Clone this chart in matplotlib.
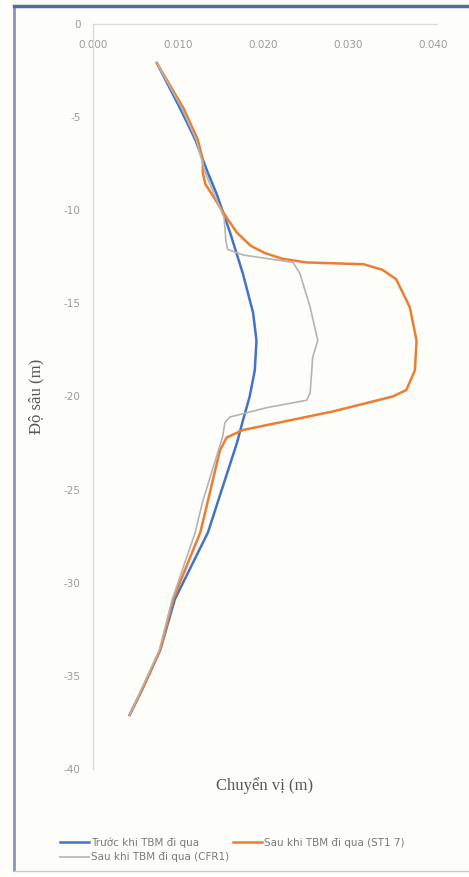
import numpy as np
import matplotlib
matplotlib.use("Agg")
import matplotlib.pyplot as plt
from matplotlib.lines import Line2D

# depth (m, negative downward) and displacement (m)
depth_before = [-2.1, -4.5, -6.2, -8.0, -9.1, -10.4, -11.2, -13.4, -15.5, -17.0, -18.6,
                -20.0, -21.3, -22.5, -25.6, -27.3, -30.9, -33.6, -35.8, -37.1]
disp_before = [0.0075, 0.0102, 0.0120, 0.0135, 0.0145, 0.0155, 0.0161, 0.0176, 0.0188, 0.0192, 0.0190,
               0.0184, 0.0176, 0.0169, 0.0147, 0.0135, 0.0096, 0.0079, 0.0057, 0.0043]

depth_after1 = [-2.1, -4.5, -6.2, -7.3, -8.0, -8.6, -9.1, -10.4, -11.2, -11.9, -12.3, -12.6, -12.8,
                -12.9, -13.2, -13.7, -15.2, -17.0, -18.6, -19.65, -20.0, -20.8, -21.8, -22.2, -22.9,
                -25.6, -27.3, -30.9, -33.6, -35.8, -37.1]
disp_after1 = [0.0075, 0.0106, 0.0123, 0.0129, 0.0129, 0.0132, 0.0139, 0.0157, 0.0169, 0.0185, 0.0202,
               0.0222, 0.0250, 0.0318, 0.0340, 0.0356, 0.0372, 0.0380, 0.0378, 0.0368, 0.0352, 0.0282,
               0.0176, 0.0157, 0.0149, 0.0135, 0.0126, 0.0094, 0.0079, 0.0057, 0.0043]

depth_after2 = [-2.1, -4.5, -6.2, -8.0, -9.1, -10.4, -11.6, -12.1, -12.4, -12.8, -13.4, -15.2, -17.0,
                -17.9, -19.8, -20.2, -20.6, -21.1, -21.4, -22.2, -25.6, -27.3, -30.9, -33.6, -35.8, -37.1]
disp_after2 = [0.0075, 0.0104, 0.0121, 0.0132, 0.0142, 0.0154, 0.0156, 0.0158, 0.0176, 0.0235, 0.0243,
               0.0255, 0.0264, 0.0258, 0.0255, 0.0251, 0.0204, 0.0161, 0.0155, 0.0152, 0.0129, 0.0120,
               0.0093, 0.0078, 0.0056, 0.0043]

labels = ["Trước khi TBM đi qua", "Sau khi TBM đi qua (ST1 7)", "Sau khi TBM đi qua (CFR1)"]
x_ticks = [0.0, 0.01, 0.02, 0.03, 0.04]
y_ticks = [0, -5, -10, -15, -20, -25, -30, -35, -40]

W, H = 469, 877
fig = plt.figure(figsize=(W / 100, H / 100), dpi=100, facecolor="#fdfdfa")
ax = fig.add_axes([93 / W, 1 - 769 / H, 344 / W, 745 / H])
ax.set_facecolor("#fdfdfa")

l1, = ax.plot(disp_before, depth_before, color="#4472c4", lw=1.8)
l2, = ax.plot(disp_after1, depth_after1, color="#ed7d31", lw=1.8)
l3, = ax.plot(disp_after2, depth_after2, color="#b4b4b4", lw=1.2)

ax.set_xlim(0, 0.0404)
ax.set_ylim(-40, 0)
ax.set_xticks(x_ticks)
ax.set_xticklabels(["%.3f" % v for v in x_ticks])
ax.set_yticks(y_ticks)
ax.set_yticklabels([str(v) for v in y_ticks])

for s in ["right", "bottom"]:
    ax.spines[s].set_visible(False)
for s in ["left", "top"]:
    ax.spines[s].set_color("#d9d9d9")
    ax.spines[s].set_linewidth(0.9)

ax.xaxis.set_ticks_position("top")
ax.tick_params(axis="x", length=0, pad=-19, labelsize=7.5, labelcolor="#9a9a9a")
ax.tick_params(axis="y", length=0, pad=9, labelsize=7.5, labelcolor="#9a9a9a")

ax.xaxis.set_label_position("bottom")
ax.set_xlabel("Chuyển vị (m)", family="Liberation Serif", fontsize=12, color="#595959", labelpad=6)
ax.set_ylabel("Độ sâu (m)", family="Liberation Serif", fontsize=12, color="#595959")
ax.yaxis.set_label_coords(-0.142, 0.5)

fig.legend([l1, l3, l2], [labels[0], labels[2], labels[1]], ncol=2, frameon=False,
           loc="upper left", bbox_to_anchor=(55 / W, 1 - 832 / H), borderpad=0,
           fontsize=7.5, handlelength=2.8, handletextpad=0.2, columnspacing=0.3,
           labelspacing=0.45, labelcolor="#7a7a7a")

# screenshot frame
fig.add_artist(Line2D([14 / W, 14 / W], [1 - 870 / H, 1 - 7 / H], color="#8796b8", lw=2))
fig.add_artist(Line2D([14 / W, 1], [1 - 6 / H, 1 - 6 / H], color="#4f6e9e", lw=2.5))
fig.add_artist(Line2D([14 / W, 1], [1 - 871 / H, 1 - 871 / H], color="#c8c8c8", lw=1))

fig.savefig("out.png", dpi=100, facecolor=fig.get_facecolor())
